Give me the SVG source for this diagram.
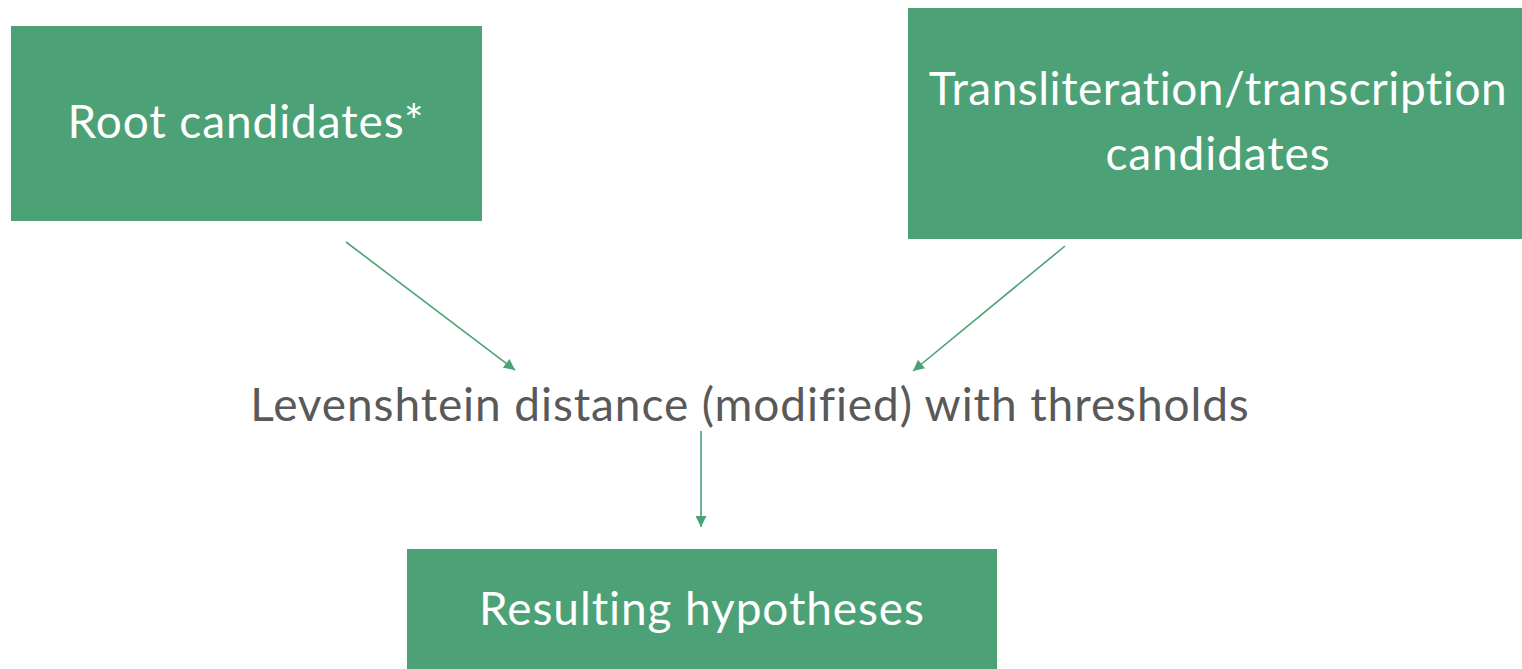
<svg xmlns="http://www.w3.org/2000/svg" width="1522" height="669" viewBox="0 0 1522 669">
  <style>
    .box { fill: #4ca276; }
    .lbl { font-family: Lato, "Open Sans", sans-serif; font-size: 46px; letter-spacing: 0.9px; fill: #ffffff; text-anchor: middle; }
    .mid { font-family: Lato, "Open Sans", sans-serif; font-size: 46px; letter-spacing: 0.9px; fill: #595959; text-anchor: middle; }
    .edge { stroke: #4ca276; stroke-width: 1.6; fill: none; marker-end: url(#arrow); }
  </style>
  <defs>
    <marker id="arrow" viewBox="0 0 10 10" refX="10" refY="5" markerWidth="12" markerHeight="11" markerUnits="userSpaceOnUse" orient="auto">
      <path d="M0,0 L10,5 L0,10 z" fill="#4ca276"/>
    </marker>
  </defs>
  <rect width="1522" height="669" fill="#ffffff"/>

  <g id="root-candidates">
    <rect class="box" x="11" y="26" width="471" height="195"/>
    <text class="lbl" x="246" y="138">Root candidates*</text>
  </g>

  <g id="translit-candidates">
    <rect class="box" x="908" y="8" width="614" height="231"/>
    <text class="lbl" x="1218" y="105" style="letter-spacing:0.5px">Transliteration/transcription</text>
    <text class="lbl" x="1218" y="170">candidates</text>
  </g>

  <g id="levenshtein">
    <text class="mid" x="750" y="421">Levenshtein distance (modified) with thresholds</text>
  </g>

  <g id="resulting-hypotheses">
    <rect class="box" x="407" y="549" width="590" height="130"/>
    <text class="lbl" x="702" y="625">Resulting hypotheses</text>
  </g>

  <g id="connectors">
    <line class="edge" x1="346" y1="242" x2="515" y2="370"/>
    <line class="edge" x1="1065" y1="246" x2="913" y2="371"/>
    <line class="edge" x1="701" y1="431" x2="701" y2="527"/>
  </g>
</svg>
